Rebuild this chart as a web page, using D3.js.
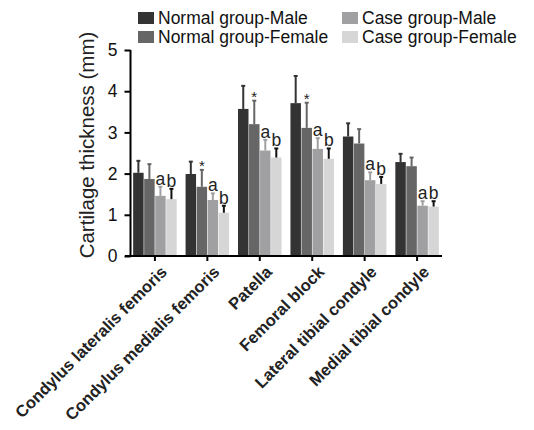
<!DOCTYPE html>
<html>
<head>
<meta charset="utf-8">
<script src="https://cdn.jsdelivr.net/npm/d3@7"></script>
<style>
  body { margin: 0; background: #fff; }
  svg { font-family: "Liberation Sans", Arial, sans-serif; }
</style>
</head>
<body>
<svg width="534" height="430"></svg>
<script>
const categories = ["Condylus lateralis femoris", "Condylus medialis femoris", "Patella",
                    "Femoral block", "Lateral tibial condyle", "Medial tibial condyle"];
const series = ["Normal group-Male", "Normal group-Female", "Case group-Male", "Case group-Female"];
const colors = ["#333333", "#666666", "#a0a0a2", "#d6d6d6"];
const errColors = ["#333333", "#666666", "#a0a0a2", "#111111"];

// mean values per series, one entry per category
const normalMale   = [2.02, 1.99, 3.57, 3.71, 2.90, 2.28];
const normalFemale = [1.87, 1.68, 3.20, 3.11, 2.73, 2.18];
const caseMale     = [1.46, 1.36, 2.56, 2.60, 1.84, 1.22];
const caseFemale   = [1.38, 1.05, 2.39, 2.36, 1.75, 1.20];
// standard deviations
const normalMaleSd   = [0.29, 0.30, 0.56, 0.66, 0.32, 0.20];
const normalFemaleSd = [0.36, 0.41, 0.57, 0.61, 0.35, 0.21];
const caseMaleSd     = [0.22, 0.16, 0.26, 0.26, 0.19, 0.11];
const caseFemaleSd   = [0.25, 0.17, 0.22, 0.25, 0.17, 0.13];
// significance marks above bars ("" = none)
const marks = [
  ["", "", "a", "b"],
  ["", "*", "a", "b"],
  ["", "*", "a", "b"],
  ["", "*", "a", "b"],
  ["", "", "a", "b"],
  ["", "", "a", "b"]
];
const yTicks = [0, 1, 2, 3, 4, 5];

const values = [normalMale, normalFemale, caseMale, caseFemale];
const sds = [normalMaleSd, normalFemaleSd, caseMaleSd, caseFemaleSd];

const svg = d3.select("svg");

const x0 = d3.scaleBand().domain(categories).range([130, 442]).paddingInner(0.17).paddingOuter(0.06);
const x1 = d3.scaleBand().domain(series).range([0, x0.bandwidth()]).paddingInner(0.05);
const y = d3.scaleLinear().domain([0, 5]).range([256, 50]);

const data = [];
categories.forEach(function(c, i) {
  series.forEach(function(s, j) {
    data.push({cat: c, ser: s, j: j, v: values[j][i], sd: sds[j][i], mark: marks[i][j]});
  });
});

function cx(d) { return x0(d.cat) + x1(d.ser) + x1.bandwidth() / 2; }

// bars
svg.append("g")
  .selectAll("rect")
  .data(data)
  .enter().append("rect")
  .attr("x", function(d) { return x0(d.cat) + x1(d.ser); })
  .attr("y", function(d) { return y(d.v); })
  .attr("width", x1.bandwidth())
  .attr("height", function(d) { return y(0) - y(d.v); })
  .attr("fill", function(d) { return colors[d.j]; });

// error bars (upper only)
const err = svg.append("g").selectAll("g")
  .data(data)
  .enter().append("g")
  .attr("stroke", function(d) { return errColors[d.j]; })
  .attr("stroke-width", 2);
err.append("line")
  .attr("x1", cx).attr("x2", cx)
  .attr("y1", function(d) { return y(d.v); })
  .attr("y2", function(d) { return y(d.v + d.sd); });
err.append("line")
  .attr("x1", function(d) { return cx(d) - 2; })
  .attr("x2", function(d) { return cx(d) + 2; })
  .attr("y1", function(d) { return y(d.v + d.sd); })
  .attr("y2", function(d) { return y(d.v + d.sd); });

// significance letters
svg.append("g")
  .selectAll("text")
  .data(data.filter(function(d) { return d.mark; }))
  .enter().append("text")
  .attr("x", cx)
  .attr("y", function(d) { return y(d.v + d.sd) - (d.mark === "*" ? -1 : 2); })
  .attr("text-anchor", "middle")
  .attr("font-size", function(d) { return d.mark === "*" ? 15 : 17.5; })
  .attr("fill", "#222")
  .text(function(d) { return d.mark; });

// y axis
const yAxis = svg.append("g")
  .attr("transform", "translate(130.5,0)")
  .call(d3.axisLeft(y).tickValues(yTicks).tickSize(6).tickFormat(d3.format("d")));
yAxis.select(".domain").attr("stroke-width", 2).attr("d", "M0," + y(5) + "V" + y(0));
yAxis.selectAll(".tick line").attr("stroke-width", 2);
yAxis.selectAll(".tick text").attr("font-size", 17.5).attr("fill", "#111").attr("x", -13).attr("font-family", "Liberation Sans, Arial, sans-serif");

// x axis
const xAxis = svg.append("g")
  .attr("transform", "translate(0," + y(0) + ")")
  .call(d3.axisBottom(x0).tickSize(5).tickSizeOuter(0));
xAxis.select(".domain").attr("stroke-width", 2).attr("d", "M125,0H442");
xAxis.selectAll(".tick line").attr("stroke-width", 2);
xAxis.selectAll(".tick text")
  .attr("font-size", 16.5)
  .attr("font-weight", "bold")
  .attr("fill", "#222")
  .attr("font-family", "Liberation Sans, Arial, sans-serif")
  .attr("text-anchor", "end")
  .attr("dy", "0.35em")
  .attr("transform", "translate(9,13) rotate(-45)")
  .attr("x", 0).attr("y", 0);

// y axis title
svg.append("text")
  .attr("transform", "translate(94,145) rotate(-90)")
  .attr("text-anchor", "middle")
  .attr("font-size", 20.5)
  .attr("fill", "#222")
  .text("Cartilage thickness (mm)");

// legend
const legendPos = [[138, 12], [138, 31], [342, 12], [342, 31]];
const legend = svg.append("g")
  .selectAll("g")
  .data(series)
  .enter().append("g")
  .attr("transform", function(d, i) { return "translate(" + legendPos[i][0] + "," + legendPos[i][1] + ")"; });
legend.append("rect")
  .attr("width", 16).attr("height", 12)
  .attr("fill", function(d, i) { return colors[i]; });
legend.append("text")
  .attr("x", 20).attr("y", 12)
  .attr("font-size", 17.5)
  .attr("fill", "#111")
  .text(function(d) { return d; });
</script>
</body>
</html>
